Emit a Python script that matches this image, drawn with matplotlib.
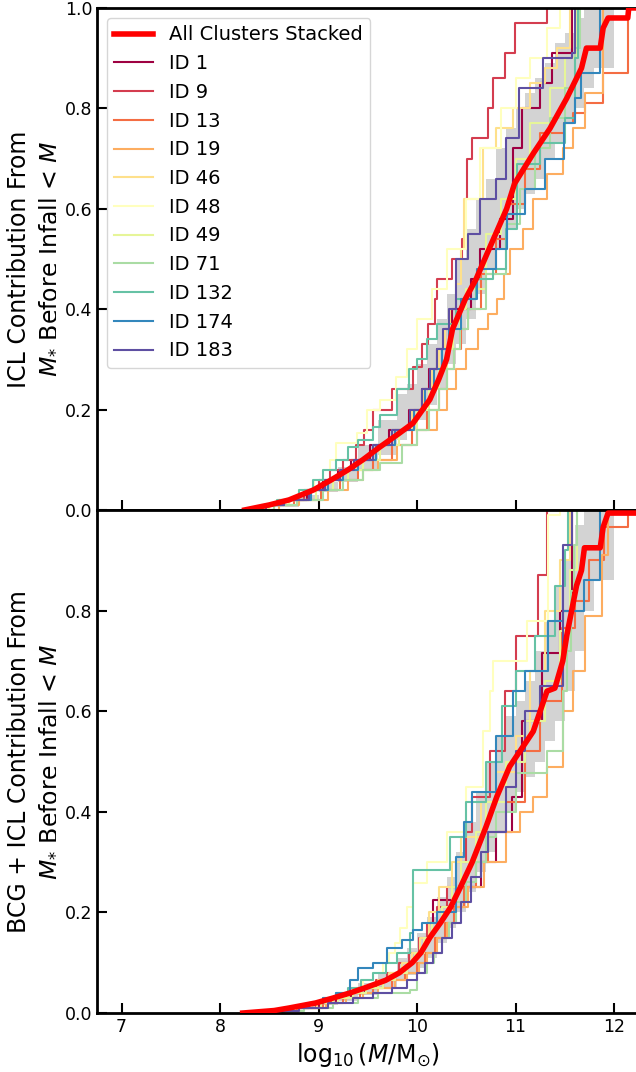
import matplotlib
matplotlib.use('Agg')
import matplotlib.pyplot as plt
import numpy as np

fontSize = 17
tickSize = 12.5

ids = ['1', '9', '13', '19', '46', '48', '49', '71', '132', '174', '183']

# ---------------- top panel: ICL ----------------
red_icl_x = [8.25, 8.5, 8.7, 8.95, 9.13, 9.3, 9.45, 9.62, 9.8, 9.96, 10.13, 10.22, 10.3, 10.36, 10.49, 10.6,
             10.71, 10.91, 10.99, 11.18, 11.35, 11.52, 11.67, 11.72, 11.86, 11.89, 11.94, 12.14, 12.15, 12.3]
red_icl_y = [0.0, 0.01, 0.02, 0.04, 0.06, 0.08, 0.10, 0.125, 0.15, 0.173, 0.22, 0.26, 0.30, 0.36, 0.42, 0.46,
             0.51, 0.60, 0.65, 0.71, 0.76, 0.82, 0.88, 0.92, 0.92, 0.96, 0.98, 0.98, 1.0, 1.0]

band_icl_x = [8.5, 8.8, 9.0, 9.2, 9.4, 9.6, 9.8, 9.9, 10.0, 10.1, 10.2, 10.3, 10.4, 10.5, 10.6, 10.7, 10.8,
              10.9, 11.0, 11.1, 11.2, 11.3, 11.4, 11.5, 11.6, 11.7, 11.8, 12.0]
band_icl_lo = [0.005, 0.02, 0.035, 0.055, 0.08, 0.11, 0.14, 0.16, 0.18, 0.21, 0.24, 0.29, 0.33, 0.38, 0.43,
               0.48, 0.52, 0.56, 0.60, 0.63, 0.66, 0.70, 0.73, 0.77, 0.80, 0.84, 0.88, 0.95]
band_icl_hi = [0.01, 0.03, 0.055, 0.085, 0.13, 0.18, 0.23, 0.25, 0.29, 0.33, 0.38, 0.43, 0.50, 0.56, 0.62,
               0.66, 0.72, 0.76, 0.80, 0.83, 0.86, 0.89, 0.93, 0.95, 0.98, 1.0, 1.0, 1.0]

icl_x = {
    '1': [8.3, 8.45, 8.62, 8.88, 9.05, 9.2, 9.33, 9.52, 9.72, 9.92, 10.05, 10.12, 10.2, 10.28, 10.35, 10.55, 10.64, 10.84, 10.97, 11.07, 11.25, 11.37, 11.57],
    '9': [8.3, 8.45, 8.6, 8.85, 9.0, 9.12, 9.25, 9.38, 9.46, 9.55, 9.75, 9.96, 10.05, 10.11, 10.18, 10.2, 10.35, 10.46, 10.49, 10.51, 10.56, 10.72, 10.77, 10.89, 10.99, 11.32],
    '13': [8.3, 8.55, 8.75, 9.02, 9.22, 9.4, 9.55, 9.75, 9.95, 10.1, 10.22, 10.3, 10.38, 10.45, 10.52, 10.65, 10.8, 10.91, 11.1, 11.25, 11.49, 11.58, 11.71, 11.89, 12.14],
    '19': [8.3, 8.6, 8.8, 9.1, 9.3, 9.45, 9.6, 9.8, 10.0, 10.2, 10.3, 10.4, 10.5, 10.62, 10.72, 10.81, 10.88, 10.94, 11.08, 11.18, 11.32, 11.48, 11.58, 11.71, 11.89],
    '46': [8.3, 8.45, 8.62, 8.9, 9.07, 9.22, 9.37, 9.55, 9.75, 9.95, 10.06, 10.15, 10.22, 10.28, 10.33, 10.4, 10.45, 10.48, 10.67, 10.8, 10.97, 11.15, 11.3, 11.42, 11.55],
    '48': [8.3, 8.42, 8.58, 8.8, 8.95, 9.05, 9.12, 9.18, 9.39, 9.49, 9.62, 9.79, 9.9, 10.0, 10.15, 10.3, 10.5, 10.64, 10.85, 11.0, 11.15, 11.32, 11.45],
    '49': [8.3, 8.5, 8.7, 8.97, 9.15, 9.3, 9.45, 9.62, 9.82, 10.0, 10.12, 10.22, 10.3, 10.37, 10.44, 10.5, 10.7, 10.85, 11.0, 11.15, 11.35, 11.5, 11.62],
    '71': [8.3, 8.55, 8.78, 9.05, 9.25, 9.45, 9.62, 9.85, 10.0, 10.12, 10.22, 10.3, 10.38, 10.44, 10.52, 10.7, 10.9, 11.05, 11.2, 11.35, 11.5, 11.6, 11.65],
    '132': [8.3, 8.42, 8.58, 8.8, 8.94, 9.05, 9.18, 9.3, 9.4, 9.55, 9.62, 9.8, 9.92, 10.0, 10.1, 10.2, 10.4, 10.6, 10.77, 10.9, 11.02, 11.25, 11.5, 11.6, 11.63],
    '174': [8.3, 8.47, 8.65, 8.92, 9.1, 9.25, 9.4, 9.58, 9.78, 9.97, 10.08, 10.17, 10.25, 10.32, 10.45, 10.61, 10.8, 10.91, 11.1, 11.3, 11.49, 11.6, 11.67, 11.86],
    '183': [8.3, 8.47, 8.65, 8.9, 9.07, 9.22, 9.36, 9.55, 9.75, 9.93, 10.05, 10.13, 10.2, 10.26, 10.32, 10.4, 10.52, 10.64, 10.8, 10.9, 11.04, 11.28, 11.57, 11.6],
}
icl_y = {
    '1': [0.0, 0.01, 0.02, 0.04, 0.06, 0.08, 0.10, 0.13, 0.16, 0.20, 0.24, 0.28, 0.32, 0.36, 0.40, 0.46, 0.52, 0.58, 0.72, 0.80, 0.85, 0.91, 1.0],
    '9': [0.0, 0.01, 0.02, 0.04, 0.06, 0.08, 0.10, 0.13, 0.16, 0.20, 0.24, 0.285, 0.33, 0.37, 0.42, 0.46, 0.50, 0.54, 0.62, 0.70, 0.74, 0.80, 0.86, 0.91, 0.97, 1.0],
    '13': [0.0, 0.01, 0.02, 0.04, 0.06, 0.08, 0.10, 0.13, 0.16, 0.20, 0.24, 0.28, 0.32, 0.36, 0.40, 0.47, 0.54, 0.61, 0.68, 0.75, 0.77, 0.79, 0.81, 0.87, 1.0],
    '19': [0.0, 0.01, 0.02, 0.04, 0.06, 0.08, 0.10, 0.13, 0.16, 0.20, 0.24, 0.28, 0.32, 0.36, 0.39, 0.42, 0.47, 0.52, 0.56, 0.62, 0.67, 0.72, 0.76, 0.83, 1.0],
    '46': [0.0, 0.01, 0.02, 0.04, 0.06, 0.08, 0.10, 0.13, 0.16, 0.20, 0.24, 0.28, 0.32, 0.36, 0.40, 0.45, 0.52, 0.62, 0.72, 0.76, 0.80, 0.85, 0.88, 0.92, 1.0],
    '48': [0.0, 0.01, 0.02, 0.04, 0.06, 0.08, 0.10, 0.133, 0.153, 0.20, 0.22, 0.265, 0.32, 0.38, 0.44, 0.52, 0.62, 0.72, 0.80, 0.86, 0.90, 0.96, 1.0],
    '49': [0.0, 0.01, 0.02, 0.04, 0.06, 0.08, 0.10, 0.13, 0.16, 0.20, 0.24, 0.28, 0.32, 0.36, 0.40, 0.44, 0.55, 0.62, 0.70, 0.77, 0.84, 0.90, 1.0],
    '71': [0.0, 0.01, 0.02, 0.04, 0.06, 0.08, 0.094, 0.13, 0.16, 0.20, 0.24, 0.28, 0.32, 0.36, 0.40, 0.47, 0.57, 0.64, 0.72, 0.78, 0.84, 0.92, 1.0],
    '132': [0.0, 0.01, 0.02, 0.04, 0.06, 0.08, 0.10, 0.125, 0.14, 0.165, 0.19, 0.24, 0.28, 0.30, 0.34, 0.37, 0.42, 0.46, 0.48, 0.56, 0.69, 0.73, 0.78, 0.90, 1.0],
    '174': [0.0, 0.01, 0.02, 0.04, 0.06, 0.08, 0.10, 0.13, 0.16, 0.20, 0.24, 0.28, 0.32, 0.36, 0.42, 0.48, 0.52, 0.59, 0.64, 0.70, 0.77, 0.82, 0.87, 1.0],
    '183': [0.0, 0.01, 0.02, 0.04, 0.06, 0.08, 0.10, 0.13, 0.16, 0.20, 0.24, 0.28, 0.32, 0.36, 0.40, 0.50, 0.55, 0.62, 0.66, 0.74, 0.84, 0.90, 0.91, 1.0],
}

# ---------------- bottom panel: BCG + ICL ----------------
red_bcg_x = [8.23, 8.55, 8.7, 8.97, 9.15, 9.32, 9.47, 9.68, 9.82, 9.95, 10.04, 10.13, 10.24, 10.34, 10.44, 10.56,
             10.70, 10.81, 10.94, 11.18, 11.32, 11.40, 11.48, 11.52, 11.57, 11.62, 11.67, 11.70, 11.86, 11.89, 11.94, 12.3]
red_bcg_y = [0.0, 0.005, 0.01, 0.02, 0.03, 0.04, 0.05, 0.065, 0.08, 0.10, 0.12, 0.15, 0.18, 0.21, 0.25, 0.30,
             0.37, 0.43, 0.49, 0.56, 0.64, 0.646, 0.70, 0.75, 0.80, 0.85, 0.88, 0.925, 0.925, 0.966, 0.994, 0.994]

band_bcg_x = [8.5, 8.8, 9.0, 9.2, 9.4, 9.6, 9.8, 9.9, 10.0, 10.1, 10.2, 10.3, 10.4, 10.5, 10.6, 10.7, 10.8,
              10.9, 11.0, 11.1, 11.2, 11.3, 11.4, 11.5, 11.6, 11.7, 11.8, 12.0]
band_bcg_lo = [0.003, 0.008, 0.015, 0.024, 0.035, 0.048, 0.065, 0.075, 0.09, 0.11, 0.14, 0.17, 0.20, 0.24, 0.28,
               0.32, 0.36, 0.40, 0.44, 0.47, 0.50, 0.54, 0.58, 0.64, 0.72, 0.80, 0.86, 0.95]
band_bcg_hi = [0.006, 0.015, 0.028, 0.042, 0.06, 0.08, 0.11, 0.13, 0.16, 0.19, 0.23, 0.27, 0.32, 0.38, 0.44,
               0.50, 0.55, 0.59, 0.62, 0.66, 0.72, 0.78, 0.85, 0.90, 0.97, 1.0, 1.0, 1.0]

bcg_x = {
    '1': [8.3, 8.55, 8.72, 9.0, 9.18, 9.33, 9.47, 9.65, 9.78, 9.9, 9.98, 10.07, 10.12, 10.16, 10.4, 10.65, 10.8, 10.96, 11.07, 11.27, 11.45, 11.57],
    '9': [8.3, 8.55, 8.7, 8.97, 9.13, 9.28, 9.4, 9.58, 9.7, 9.82, 9.92, 10.02, 10.1, 10.2, 10.3, 10.4, 10.5, 10.56, 10.74, 10.89, 11.01, 11.23, 11.32],
    '13': [8.3, 8.6, 8.78, 9.05, 9.25, 9.42, 9.55, 9.75, 9.88, 10.0, 10.08, 10.18, 10.28, 10.38, 10.48, 10.6, 10.72, 10.9, 11.1, 11.25, 11.47, 11.6, 11.75, 11.9, 12.14],
    '19': [8.3, 8.62, 8.8, 9.08, 9.28, 9.45, 9.6, 9.78, 9.9, 10.02, 10.1, 10.2, 10.3, 10.4, 10.52, 10.68, 10.9, 11.05, 11.18, 11.32, 11.48, 11.58, 11.71, 11.88, 11.94],
    '46': [8.3, 8.55, 8.72, 8.98, 9.15, 9.3, 9.43, 9.6, 9.72, 9.85, 9.95, 10.03, 10.12, 10.22, 10.35, 10.45, 10.65, 10.8, 11.0, 11.15, 11.3, 11.45, 11.55],
    '48': [8.3, 8.5, 8.68, 8.92, 9.08, 9.2, 9.32, 9.45, 9.55, 9.65, 9.72, 9.78, 9.83, 9.9, 9.96, 10.1, 10.3, 10.5, 10.67, 10.74, 10.77, 11.12, 11.33, 11.45],
    '49': [8.3, 8.58, 8.75, 9.02, 9.2, 9.35, 9.48, 9.65, 9.78, 9.9, 9.98, 10.07, 10.15, 10.25, 10.35, 10.45, 10.6, 10.7, 10.9, 11.1, 11.3, 11.45, 11.55, 11.62],
    '71': [8.3, 8.65, 8.85, 9.15, 9.4, 9.6, 9.93, 10.0, 10.1, 10.17, 10.25, 10.32, 10.4, 10.5, 10.6, 10.7, 10.8, 11.01, 11.32, 11.48, 11.52, 11.56, 11.59, 11.62],
    '132': [8.3, 8.5, 8.65, 8.9, 9.05, 9.18, 9.3, 9.43, 9.55, 9.68, 9.8, 9.93, 9.96, 10.33, 10.5, 10.7, 10.86, 11.0, 11.2, 11.4, 11.5, 11.53],
    '174': [8.3, 8.5, 8.65, 8.9, 9.05, 9.18, 9.32, 9.4, 9.55, 9.69, 9.85, 9.96, 10.05, 10.2, 10.4, 10.48, 10.56, 10.8, 10.97, 11.1, 11.33, 11.48, 11.7, 11.86],
    '183': [8.3, 8.6, 8.8, 9.1, 9.35, 9.55, 9.75, 9.9, 10.0, 10.08, 10.16, 10.25, 10.35, 10.45, 10.55, 10.65, 10.72, 10.9, 11.0, 11.1, 11.25, 11.48, 11.57],
}
bcg_y = {
    '1': [0.0, 0.005, 0.01, 0.02, 0.03, 0.04, 0.05, 0.065, 0.08, 0.10, 0.12, 0.15, 0.18, 0.225, 0.25, 0.30, 0.36, 0.43, 0.58, 0.715, 0.80, 1.0],
    '9': [0.0, 0.005, 0.01, 0.02, 0.03, 0.04, 0.05, 0.065, 0.08, 0.10, 0.12, 0.15, 0.18, 0.21, 0.25, 0.30, 0.36, 0.43, 0.52, 0.64, 0.75, 0.87, 1.0],
    '13': [0.0, 0.005, 0.01, 0.02, 0.03, 0.04, 0.05, 0.065, 0.08, 0.10, 0.12, 0.15, 0.18, 0.21, 0.25, 0.30, 0.36, 0.42, 0.52, 0.62, 0.765, 0.82, 0.90, 0.966, 1.0],
    '19': [0.0, 0.005, 0.01, 0.02, 0.03, 0.04, 0.05, 0.065, 0.08, 0.10, 0.12, 0.15, 0.18, 0.21, 0.25, 0.30, 0.36, 0.40, 0.43, 0.49, 0.60, 0.68, 0.79, 0.91, 1.0],
    '46': [0.0, 0.005, 0.01, 0.02, 0.03, 0.04, 0.05, 0.065, 0.08, 0.10, 0.12, 0.15, 0.20, 0.25, 0.30, 0.35, 0.42, 0.48, 0.55, 0.68, 0.80, 0.90, 1.0],
    '48': [0.0, 0.005, 0.01, 0.02, 0.03, 0.04, 0.05, 0.065, 0.08, 0.10, 0.12, 0.14, 0.17, 0.21, 0.258, 0.30, 0.36, 0.45, 0.56, 0.64, 0.70, 0.78, 0.99, 1.0],
    '49': [0.0, 0.005, 0.01, 0.02, 0.03, 0.04, 0.05, 0.065, 0.08, 0.10, 0.12, 0.15, 0.18, 0.21, 0.25, 0.30, 0.36, 0.42, 0.50, 0.58, 0.66, 0.76, 0.88, 1.0],
    '71': [0.0, 0.005, 0.01, 0.02, 0.03, 0.04, 0.045, 0.08, 0.10, 0.12, 0.15, 0.18, 0.22, 0.26, 0.30, 0.35, 0.40, 0.477, 0.52, 0.64, 0.72, 0.84, 0.93, 1.0],
    '132': [0.0, 0.005, 0.01, 0.02, 0.03, 0.04, 0.05, 0.065, 0.08, 0.10, 0.12, 0.159, 0.284, 0.35, 0.42, 0.50, 0.61, 0.68, 0.75, 0.85, 0.92, 1.0],
    '174': [0.0, 0.005, 0.01, 0.02, 0.03, 0.04, 0.066, 0.09, 0.10, 0.13, 0.145, 0.165, 0.18, 0.20, 0.31, 0.38, 0.44, 0.55, 0.64, 0.68, 0.78, 0.80, 0.86, 1.0],
    '183': [0.0, 0.005, 0.01, 0.02, 0.03, 0.04, 0.05, 0.065, 0.08, 0.10, 0.12, 0.15, 0.18, 0.22, 0.27, 0.32, 0.36, 0.45, 0.52, 0.60, 0.65, 0.93, 1.0],
}

colors = plt.cm.Spectral(np.linspace(0, 1, len(ids)))

fig = plt.figure(figsize=(6.36, 10.72), dpi=100)
ax1 = fig.add_axes([0.1525, 0.5243, 0.8516, 0.4683])
ax2 = fig.add_axes([0.1525, 0.0550, 0.8516, 0.4692])


def draw_panel(ax, xs, ys, rx, ry, bx, blo, bhi):
    ax.fill_between(bx, blo, bhi, step='post', color='lightgrey', lw=0, zorder=1)
    ax.plot(rx, ry, color='red', lw=4, zorder=4, label='All Clusters Stacked')
    for i, cid in enumerate(ids):
        ax.step(xs[cid], ys[cid], where='post', color=colors[i], lw=1.5, zorder=2, label='ID ' + cid)


draw_panel(ax1, icl_x, icl_y, red_icl_x, red_icl_y, band_icl_x, band_icl_lo, band_icl_hi)
draw_panel(ax2, bcg_x, bcg_y, red_bcg_x, red_bcg_y, band_bcg_x, band_bcg_lo, band_bcg_hi)

for ax in [ax1, ax2]:
    ax.set_xlim(6.75, 12.25)
    ax.set_ylim(0, 1)
    ax.set_xticks([7, 8, 9, 10, 11, 12])
    ax.tick_params(direction='in', length=7, width=1.5, labelsize=tickSize, top=False, right=False)
    for s in ax.spines.values():
        s.set_linewidth(2)

ax1.set_yticks([0, 0.2, 0.4, 0.6, 0.8, 1.0])
ax1.tick_params(labelbottom=False)
ax2.set_yticks([0, 0.2, 0.4, 0.6, 0.8])

ax1.set_ylabel('ICL Contribution From\n$M_{*}$ Before Infall < $M$', fontsize=fontSize)
ax2.set_ylabel('BCG + ICL Contribution From\n$M_{*}$ Before Infall < $M$', fontsize=fontSize)
ax2.set_xlabel(r'$\log_{10}(M/\mathrm{M}_{\odot})$', fontsize=fontSize)

h, l = ax1.get_legend_handles_labels()
ax1.legend(h, l, loc='upper left', fontsize=14)

plt.savefig('out.png', dpi=100)
